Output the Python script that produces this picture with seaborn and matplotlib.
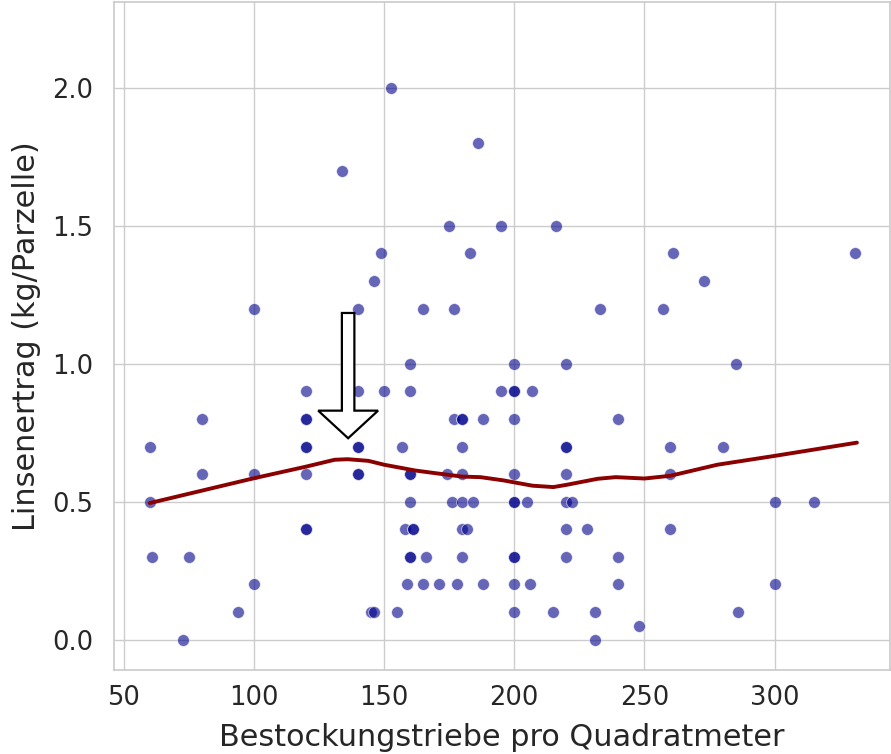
import numpy as np
import pandas as pd
import matplotlib
matplotlib.use("Agg")
import matplotlib.pyplot as plt
import seaborn as sns

# ---- data ----
shoots = [
    152.5,
    186,
    134,
    175, 195, 216,
    149, 183, 261, 331,
    146, 273,
    100, 140, 165, 177, 233, 257,
    160, 200, 220, 285,
    120, 140, 150, 160, 195, 200, 200, 207,
    80, 120, 120, 177, 180, 180, 188, 200, 240,
    60, 120, 120, 140, 140, 157, 180, 220, 220, 260, 280,
    80, 100, 120, 140, 140, 160, 160, 174, 180, 200, 220, 260,
    60, 160, 176, 180, 184, 200, 200, 205, 220, 222, 300, 315,
    120, 120, 158, 161, 161, 180, 182, 220, 228, 260,
    61, 75, 160, 160, 166, 180, 200, 200, 220, 240,
    100, 159, 165, 171, 178, 188, 200, 206, 240, 300,
    94, 145, 146, 155, 200, 215, 231, 286,
    248,
    72.6, 231,
]
yield_kg = (
    [2.0] * 1 + [1.8] * 1 + [1.7] * 1 + [1.5] * 3 + [1.4] * 4 + [1.3] * 2
    + [1.2] * 6 + [1.0] * 4 + [0.9] * 8 + [0.8] * 9 + [0.7] * 11
    + [0.6] * 12 + [0.5] * 12 + [0.4] * 10 + [0.3] * 10 + [0.2] * 10
    + [0.1] * 8 + [0.05] * 1 + [0.0] * 2
)

# smoothed trend
trend_x = [60, 100, 120, 131, 136, 144, 150, 162, 170, 180, 187, 196, 200,
           207, 215, 220, 232, 239, 250, 260, 278, 300, 331.6]
trend_y = [0.495, 0.585, 0.627, 0.652, 0.654, 0.648, 0.634, 0.613, 0.603,
           0.591, 0.589, 0.577, 0.570, 0.558, 0.553, 0.561, 0.583, 0.589,
           0.584, 0.594, 0.634, 0.666, 0.714]

x_label = "Bestockungstriebe pro Quadratmeter"
y_label = "Linsenertrag (kg/Parzelle)"

df = pd.DataFrame({"x": shoots, "y": yield_kg})
trend = pd.DataFrame({"x": trend_x, "y": trend_y})

sns.set_theme(style="whitegrid")
plt.rcParams["font.family"] = ["DejaVu Sans"]

fig = plt.figure(figsize=(8.91, 7.54), dpi=100)
ax = fig.add_axes([114.3 / 891, 1 - 670 / 754, (890 - 114.3) / 891, (670 - 2.3) / 754])

sns.scatterplot(data=df, x="x", y="y", ax=ax, color="darkblue", alpha=0.6,
                s=72, edgecolor="white", linewidth=0.6, zorder=3)
sns.lineplot(data=trend, x="x", y="y", ax=ax, color="darkred", linewidth=2.8,
             zorder=4, sort=True, estimator=None)

ax.arrow(136.2, 1.184, 0, 0.730 - 1.184, width=4.8, head_width=23.0,
         head_length=0.100, length_includes_head=True, fc="white",
         ec="black", lw=1.6, zorder=6)

ax.set_xlim(46.4, 344.3)
ax.set_ylim(-0.11, 2.31)
ax.set_xticks([50, 100, 150, 200, 250, 300])
ax.set_yticks([0.0, 0.5, 1.0, 1.5, 2.0])
ax.set_yticklabels(["0.0", "0.5", "1.0", "1.5", "2.0"])
ax.tick_params(axis="both", labelsize=18.5, colors=".15")
ax.tick_params(axis="y", pad=9)
ax.tick_params(axis="x", pad=4.5)
ax.set_xlabel(x_label, fontsize=21.8, color=".15", labelpad=9)
ax.set_ylabel(y_label, fontsize=21.8, color=".15", labelpad=8)

fig.savefig("out.png", dpi=100)
